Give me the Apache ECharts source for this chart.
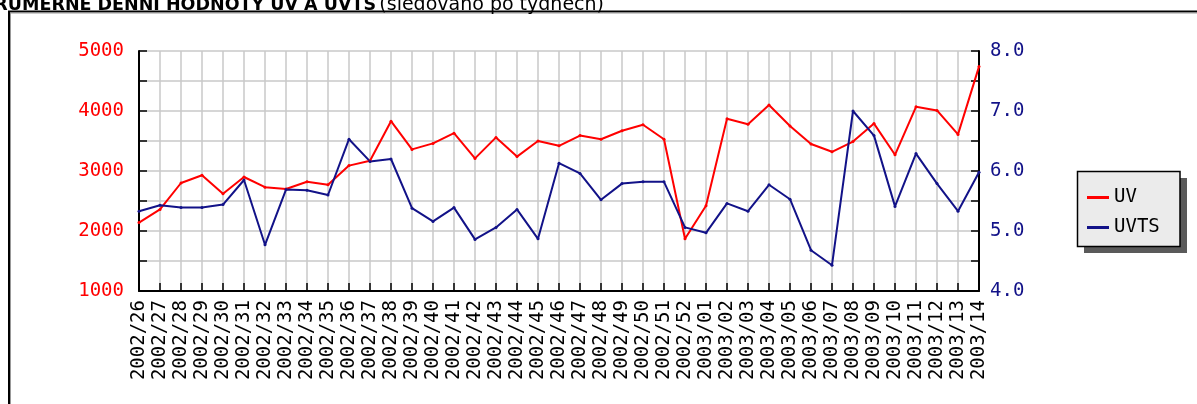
<!DOCTYPE html>
<html>
<head>
<meta charset="utf-8">
<script src="https://cdn.jsdelivr.net/npm/echarts@6/dist/echarts.min.js"></script>
<style>
  html, body { margin: 0; padding: 0; background: #fff; }
  #chart { width: 1197px; height: 404px; }
</style>
</head>
<body>
<div id="chart"></div>
<script>
const weeks = [
  '2002/26', '2002/27', '2002/28', '2002/29', '2002/30', '2002/31', '2002/32', '2002/33', '2002/34',
  '2002/35', '2002/36', '2002/37', '2002/38', '2002/39', '2002/40', '2002/41', '2002/42', '2002/43',
  '2002/44', '2002/45', '2002/46', '2002/47', '2002/48', '2002/49', '2002/50', '2002/51', '2002/52',
  '2003/01', '2003/02', '2003/03', '2003/04', '2003/05', '2003/06', '2003/07', '2003/08', '2003/09',
  '2003/10', '2003/11', '2003/12', '2003/13', '2003/14'
];

const uv = [
  2140, 2360, 2800, 2930, 2620, 2900, 2730, 2700, 2820, 2770, 3090, 3170, 3830, 3360,
  3460, 3630, 3210, 3560, 3240, 3500, 3420, 3590, 3530, 3670, 3770, 3530, 1870,
  2420, 3870, 3780, 4100, 3750, 3450, 3320, 3490, 3790, 3270, 4070, 4010, 3610, 4740
];

const uvts = [
  5.33, 5.43, 5.39, 5.39, 5.44, 5.85, 4.77, 5.69, 5.68, 5.60, 6.53, 6.16, 6.20, 5.38,
  5.16, 5.39, 4.86, 5.06, 5.36, 4.87, 6.13, 5.96, 5.52, 5.79, 5.82, 5.82, 5.06,
  4.97, 5.46, 5.33, 5.77, 5.53, 4.68, 4.43, 7.00, 6.59, 5.41, 6.29, 5.79, 5.33, 5.98
];

const MONO = '"DejaVu Sans Mono", monospace';
const RED = '#ff0000';
const NAVY = '#121288';

const chart = echarts.init(document.getElementById('chart'), null, { renderer: 'canvas' });

const option = {
  backgroundColor: '#fff',
  animation: false,
  graphic: [
    // outer frame
    {
      type: 'polyline',
      shape: { points: [[9, 404], [9, 11.5], [1197, 11.5]] },
      style: { stroke: '#000', lineWidth: 2, fill: null }
    },
    {
      type: 'polyline',
      shape: { points: [[10.5, 404], [10.5, 13], [1197, 13]] },
      style: { stroke: '#999', lineWidth: 1, fill: null }
    },
    {
      type: 'text',
      x: 604,
      y: 5,
      style: {
        text: '{b|PRŮMĚRNÉ DENNÍ HODNOTY UV A UVTS} {n|(sledováno po týdnech)}',
        align: 'right',
        verticalAlign: 'middle',
        rich: {
          b: { fontFamily: '"DejaVu Sans"', fontWeight: 'bold', fontSize: 17.5, fill: '#000' },
          n: { fontFamily: '"DejaVu Sans"', fontSize: 19, fill: '#000' }
        }
      }
    },
    // legend box with hard shadow
    {
      type: 'rect',
      z: 1,
      shape: { x: 1084, y: 178, width: 103, height: 75 },
      style: { fill: '#5a5a5a' }
    },
    {
      type: 'rect',
      z: 2,
      shape: { x: 1077.5, y: 171.5, width: 102.5, height: 75 },
      style: { fill: '#ebebeb', stroke: '#000', lineWidth: 1.5 }
    }
  ],
  legend: {
    orient: 'vertical',
    left: 1077,
    top: 172,
    z: 10,
    padding: [16, 18, 11, 10],
    itemGap: 11,
    itemWidth: 22,
    itemHeight: 3,
    icon: 'rect',
    textStyle: { fontFamily: MONO, fontSize: 19, color: '#000' },
    data: ['UV', 'UVTS']
  },
  grid: { left: 139, right: 218, top: 51, bottom: 113, containLabel: false },
  xAxis: {
    type: 'category',
    data: weeks,
    boundaryGap: false,
    axisLine: { lineStyle: { color: '#000', width: 2 } },
    axisTick: { inside: true, length: 8, interval: 0, lineStyle: { color: '#000', width: 1.5 } },
    axisLabel: {
      interval: 0,
      rotate: 90,
      margin: 9,
      fontFamily: MONO,
      fontSize: 19,
      color: '#000'
    },
    splitLine: { show: true, interval: 0, lineStyle: { color: '#c8c8c8', width: 1.5 } }
  },
  yAxis: [
    {
      type: 'value',
      min: 1000,
      max: 5000,
      interval: 500,
      position: 'left',
      axisLine: { show: true, lineStyle: { color: '#000', width: 2 } },
      axisTick: { show: true, inside: true, length: 8, lineStyle: { color: '#000', width: 1.5 } },
      axisLabel: {
        margin: 15,
        fontFamily: MONO,
        fontSize: 19,
        color: RED,
        formatter: v => (v % 1000 === 0 ? String(v) : '')
      },
      splitLine: { show: true, lineStyle: { color: '#c8c8c8', width: 1.5 } }
    },
    {
      type: 'value',
      min: 4,
      max: 8,
      interval: 0.5,
      position: 'right',
      axisLine: { show: true, lineStyle: { color: '#000', width: 2 } },
      axisTick: { show: true, inside: true, length: 8, lineStyle: { color: '#000', width: 1.5 } },
      axisLabel: {
        margin: 11,
        fontFamily: MONO,
        fontSize: 19,
        color: NAVY,
        formatter: v => (v % 1 === 0 ? v.toFixed(1) : '')
      },
      splitLine: { show: false }
    }
  ],
  series: [
    {
      name: 'UV',
      type: 'line',
      yAxisIndex: 0,
      data: uv,
      symbol: 'circle',
      symbolSize: 3,
      lineStyle: { color: RED, width: 2 },
      itemStyle: { color: RED }
    },
    {
      name: 'UVTS',
      type: 'line',
      yAxisIndex: 1,
      data: uvts,
      symbol: 'circle',
      symbolSize: 3,
      lineStyle: { color: NAVY, width: 2 },
      itemStyle: { color: NAVY }
    }
  ]
};

chart.setOption(option);
</script>
</body>
</html>
